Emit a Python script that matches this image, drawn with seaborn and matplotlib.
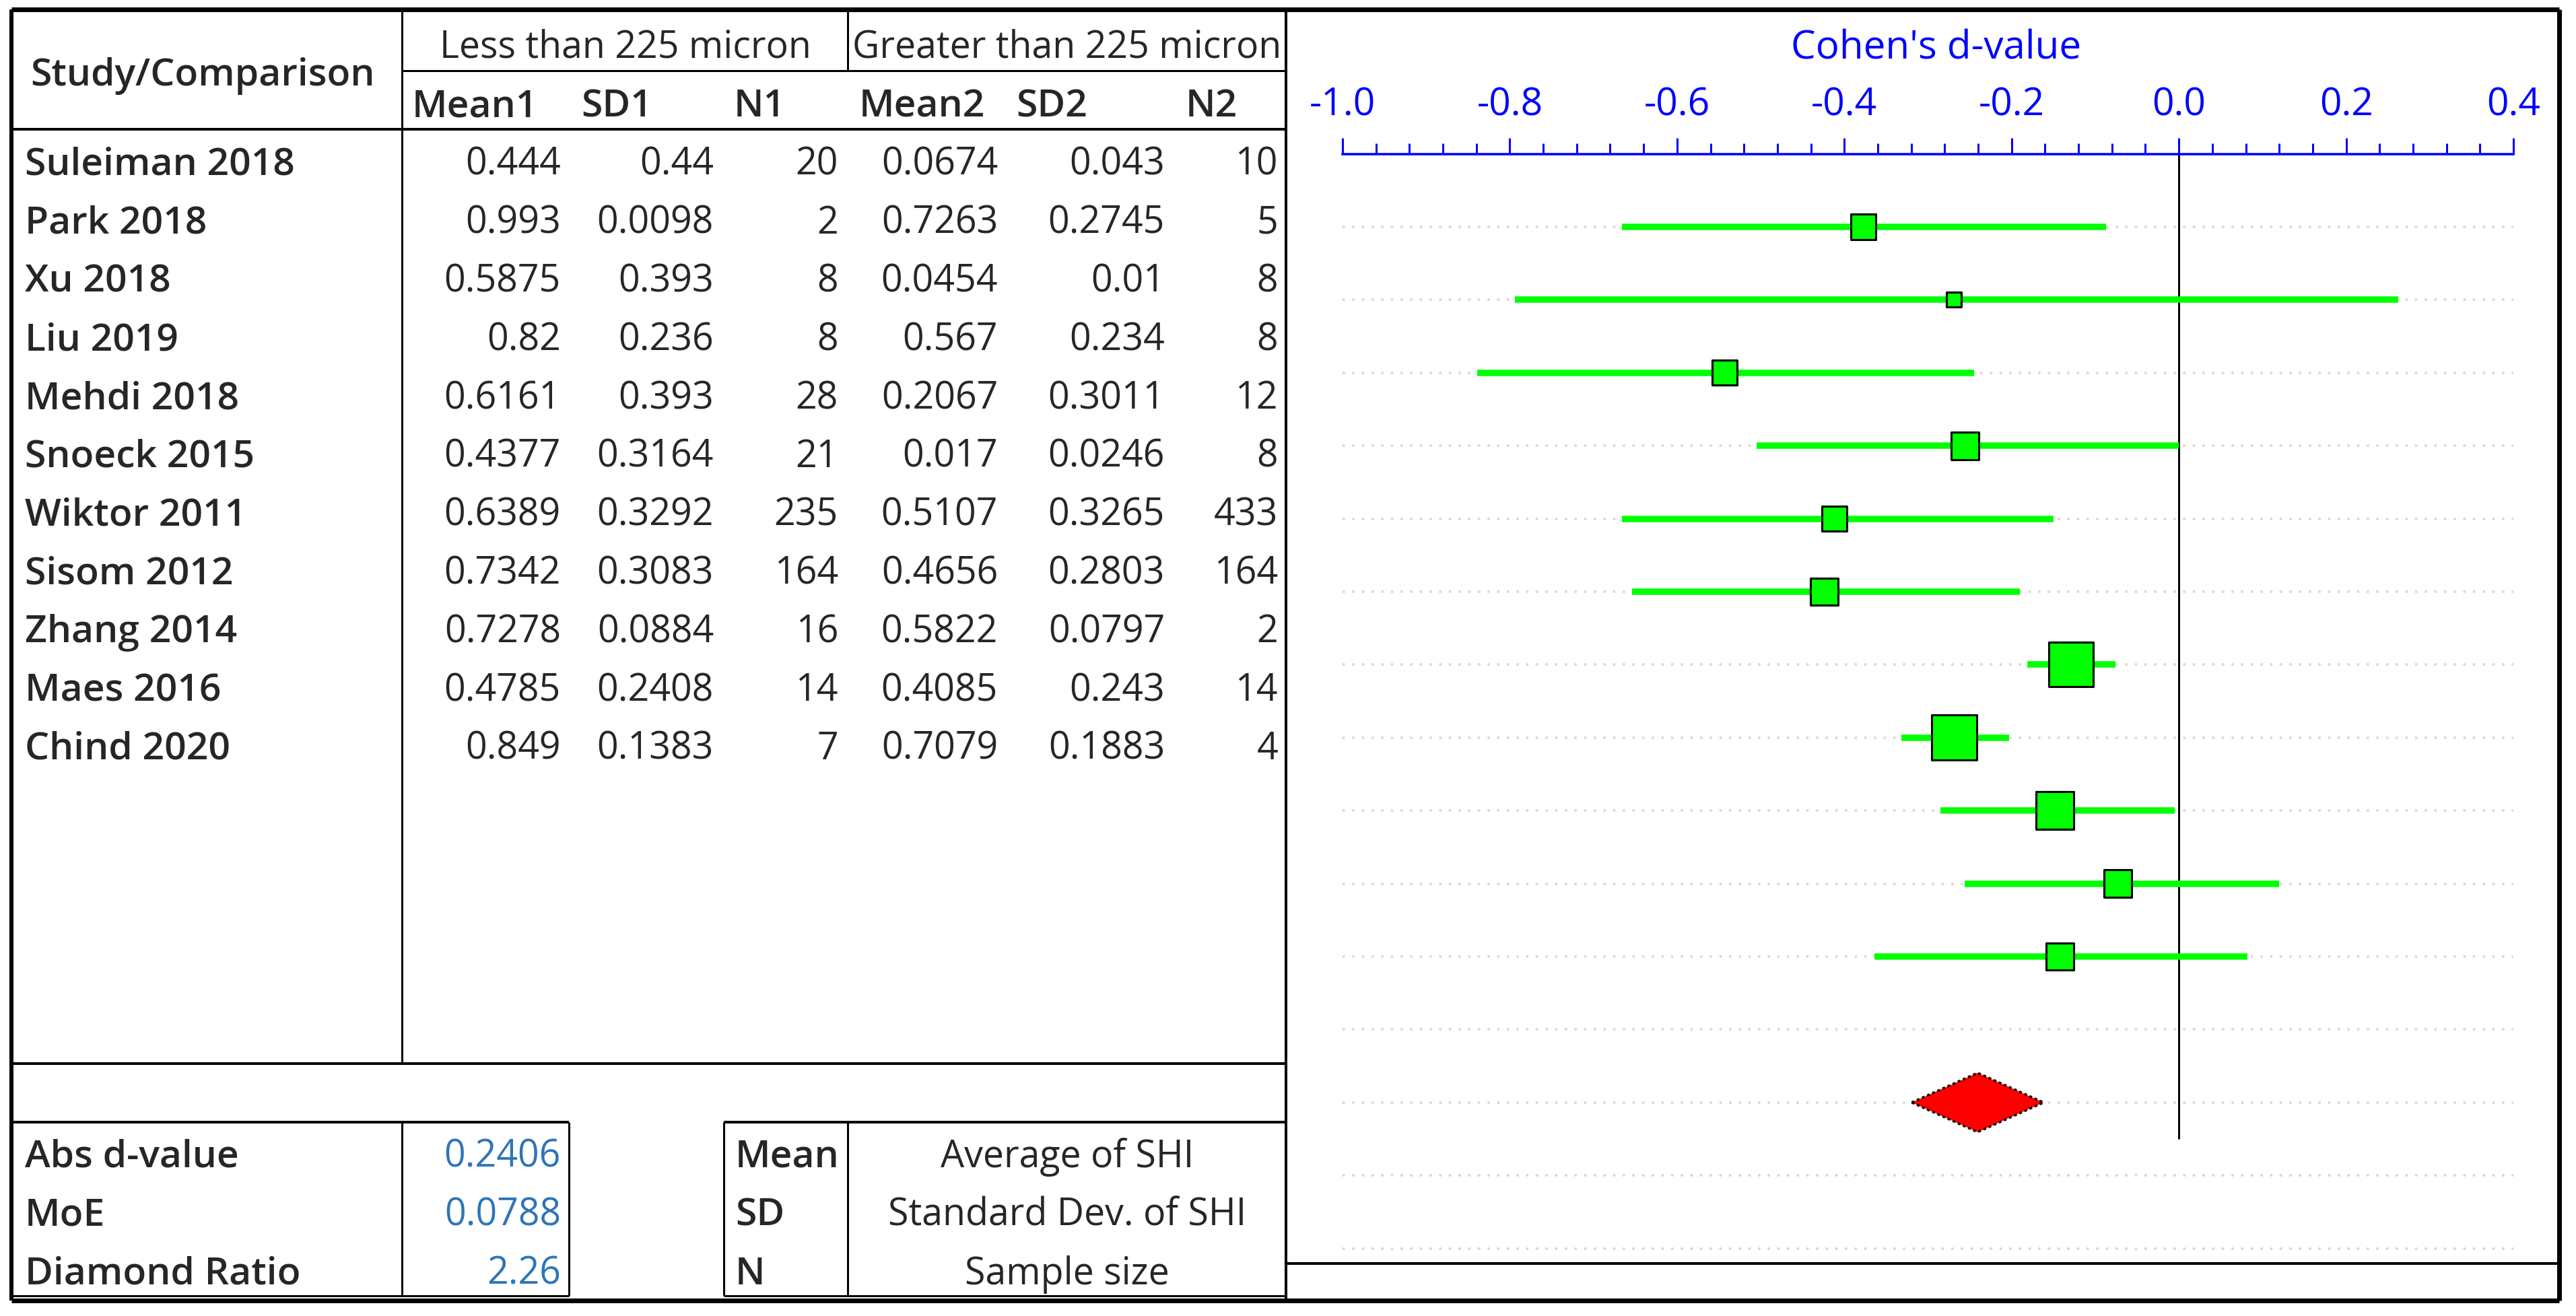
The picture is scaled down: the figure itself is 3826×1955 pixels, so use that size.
import matplotlib
matplotlib.use("Agg")
import numpy as np
import pandas as pd
import matplotlib.pyplot as plt
from matplotlib.ticker import MultipleLocator
import seaborn as sns

# table data
studies = ["Suleiman 2018", "Park 2018", "Xu 2018", "Liu 2019", "Mehdi 2018", "Snoeck 2015",
           "Wiktor 2011", "Sisom 2012", "Zhang 2014", "Maes 2016", "Chind 2020"]
mean1 = [0.444, 0.993, 0.5875, 0.82, 0.6161, 0.4377, 0.6389, 0.7342, 0.7278, 0.4785, 0.849]
sd1 = [0.44, 0.0098, 0.393, 0.236, 0.393, 0.3164, 0.3292, 0.3083, 0.0884, 0.2408, 0.1383]
n1 = [20, 2, 8, 8, 28, 21, 235, 164, 16, 14, 7]
mean2 = [0.0674, 0.7263, 0.0454, 0.567, 0.2067, 0.017, 0.5107, 0.4656, 0.5822, 0.4085, 0.7079]
sd2 = [0.043, 0.2745, 0.01, 0.234, 0.3011, 0.0246, 0.3265, 0.2803, 0.0797, 0.243, 0.1883]
n2 = [10, 5, 8, 8, 12, 8, 433, 164, 2, 14, 4]

# forest plot data
d_values = [-0.377, -0.269, -0.543, -0.256, -0.412, -0.424, -0.129, -0.269, -0.148, -0.073, -0.142]
ci_low = [-0.666, -0.794, -0.839, -0.505, -0.666, -0.654, -0.181, -0.332, -0.285, -0.256, -0.364]
ci_high = [-0.087, 0.262, -0.245, 0.000, -0.150, -0.190, -0.076, -0.203, -0.005, 0.120, 0.082]
weights = [5.9, 2.1, 5.9, 7.2, 5.9, 6.9, 18.8, 19.3, 13.5, 7.2, 7.2]

abs_d = 0.2406
moe = 0.0788
diamond_ratio = 2.26

tick_values = [-1.0, -0.8, -0.6, -0.4, -0.2, 0.0, 0.2, 0.4]
col_headers = ["Mean1", "SD1", "N1", "Mean2", "SD2", "N2"]
group_headers = ["Less than 225 micron", "Greater than 225 micron"]
summary_labels = ["Abs d-value", "MoE", "Diamond Ratio"]
summary_values = [abs_d, moe, diamond_ratio]
legend_keys = ["Mean", "SD", "N"]
legend_text = ["Average of SHI", "Standard Dev. of SHI", "Sample size"]

sns.set_theme(style="white")
plt.rcParams['font.family'] = ['Open Sans', 'DejaVu Sans']

W, H = 3826, 1956
PT = 0.72  # points per pixel at dpi 100
fig = plt.figure(figsize=(W / 100, H / 100), dpi=100, facecolor="white")

# ---- table / frame layer, in pixel coordinates ----
ax_t = fig.add_axes([0, 0, 1, 1])
ax_t.set_xlim(0, W)
ax_t.set_ylim(H, 0)
ax_t.axis("off")

k = "black"
thick, mid, thin = 7 * PT, 4 * PT, 3 * PT
L, R, T, B = 17, 3801, 15, 1933
split = 1910
ax_t.hlines(T, L, R, color=k, lw=thick)
ax_t.hlines(B, L, R, color=k, lw=thick)
ax_t.vlines(L, T, B, color=k, lw=6 * PT)
ax_t.vlines(R, T, B, color=k, lw=thick)
ax_t.vlines(split, T, B, color=k, lw=mid)
ax_t.hlines(106, 597, split, color=k, lw=thin)
ax_t.hlines(193, L, split, color=k, lw=mid)
ax_t.vlines(597, T, 1581, color=k, lw=thin)
ax_t.vlines(1259, T, 106, color=k, lw=thin)
ax_t.hlines(1581, L, split, color=k, lw=mid)
ax_t.hlines(1668, L, 845, color=k, lw=mid)
ax_t.hlines(1668, 1075, split, color=k, lw=mid)
ax_t.hlines(1926, L, 845, color=k, lw=thin)
ax_t.hlines(1926, 1075, split, color=k, lw=thin)
ax_t.vlines([597, 845], 1668, 1926, color=k, lw=thin)
ax_t.vlines([1075, 1259], 1668, 1926, color=k, lw=thin)
ax_t.hlines(1878, split, R, color=k, lw=mid)

fs = 40
fsb = 41
bw = "semibold"
ax_t.text(45, 127, "Study/Comparison", fontsize=fsb, fontweight=bw, va="baseline")
ax_t.text(929, 86, group_headers[0], fontsize=fs, ha="center", va="baseline")
ax_t.text(1585, 86, group_headers[1], fontsize=fs, ha="center", va="baseline")
for name, x in zip(col_headers, [612, 863, 1090, 1276, 1509, 1761]):
    ax_t.text(x, 173, name, fontsize=fsb, fontweight=bw, va="baseline")

row_h = 86.8
col_right = [833, 1060, 1245, 1482, 1730, 1898]
for i, name in enumerate(studies):
    yb = 241 + row_h * i + 19
    ax_t.text(37, yb, name, fontsize=fsb, fontweight=bw, va="baseline")
    cells = [mean1[i], sd1[i], n1[i], mean2[i], sd2[i], n2[i]]
    for v, x in zip(cells, col_right):
        ax_t.text(x, yb, f"{v:g}", fontsize=fs, ha="right", va="baseline")

for i in range(3):
    yb = 1715 + row_h * i + 19
    ax_t.text(37, yb, summary_labels[i], fontsize=fsb, fontweight=bw, va="baseline")
    ax_t.text(833, yb, f"{summary_values[i]:g}", fontsize=fs, ha="right", va="baseline",
              color="#2E75B6")
    ax_t.text(1092, yb, legend_keys[i], fontsize=fsb, fontweight=bw, va="baseline")
    ax_t.text(1585, yb, legend_text[i], fontsize=fs, ha="center", va="baseline")

blue = "#0000FF"
ax_t.text(2876, 87, "Cohen's d-value", fontsize=42, color=blue, ha="center", va="baseline")

# ---- forest plot ----
row0, row_step = 338, 108.4
ax_top, ax_bot = 230, 1878
r_top = (ax_top - row0) / row_step
r_bot = (ax_bot - row0) / row_step
x_left, x_right = 1994, 3733
ax = fig.add_axes([x_left / W, 1 - ax_bot / H, (x_right - x_left) / W, (ax_bot - ax_top) / H])
ax.patch.set_visible(False)

n_slots = len(studies) + 4
diamond_row = len(studies) + 1
rows = np.arange(len(studies))

ax.hlines(np.arange(n_slots), tick_values[0], tick_values[-1], colors="#d6d6d6",
          linestyles=(0, (1, 3.1)), lw=3.5 * PT, zorder=1)
ax.vlines(0, r_top, diamond_row + 0.5, color="black", lw=3 * PT, zorder=2)
ax.hlines(rows, ci_low, ci_high, colors="#00FF00", lw=9.5 * PT, zorder=3, capstyle="butt")

df = pd.DataFrame({"d": d_values, "row": rows, "weight": weights})
smax = (67 * PT) ** 2
sns.scatterplot(data=df, x="d", y="row", size="weight", sizes=(0, smax),
                size_norm=(0, max(weights)), marker="s", color="#00FF00",
                edgecolor="black", linewidth=2.2, legend=False, ax=ax, zorder=4)

mean_d = -abs_d
half_h = 44 / row_step
ax.fill([mean_d - moe, mean_d, mean_d + moe, mean_d],
        [diamond_row, diamond_row - half_h, diamond_row, diamond_row + half_h],
        facecolor="#FF0000", edgecolor="black", lw=2.5, ls=(0, (1.2, 1.2)), zorder=4)

ax.set_xlim(tick_values[0], tick_values[-1])
ax.set_ylim(r_bot, r_top)
ax.set_xlabel("")
ax.set_ylabel("")
ax.set_yticks([])
ax.xaxis.tick_top()
ax.set_xticks(tick_values)
ax.set_xticklabels([f"{t:.1f}" for t in tick_values])
ax.xaxis.set_minor_locator(MultipleLocator(0.04))
ax.tick_params(axis="x", which="major", direction="out", length=24 * PT, width=3 * PT,
               color=blue, labelcolor=blue, labelsize=41, pad=15)
ax.tick_params(axis="x", which="minor", direction="out", length=16 * PT, width=3 * PT,
               color=blue)
for side in ["bottom", "left", "right"]:
    ax.spines[side].set_visible(False)
ax.spines["top"].set_color(blue)
ax.spines["top"].set_linewidth(3.5 * PT)

fig.savefig("out.png", dpi=100, facecolor="white")
